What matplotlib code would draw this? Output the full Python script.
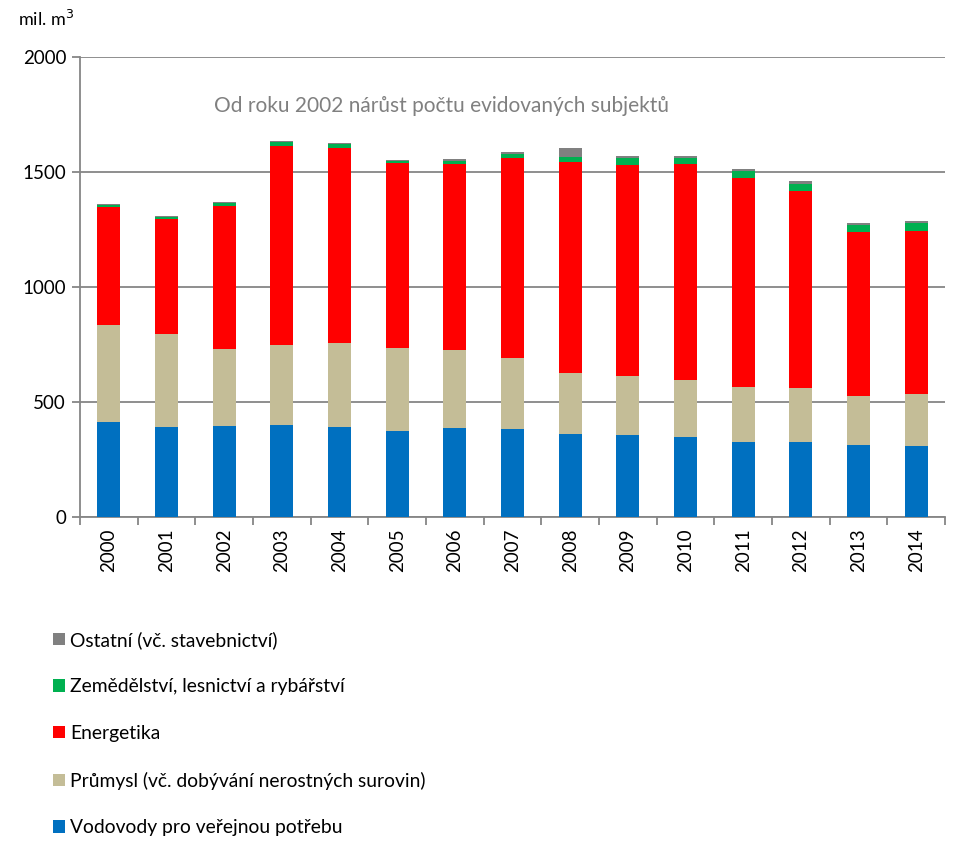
import matplotlib.pyplot as plt
import numpy as np
from matplotlib.patches import Patch

plt.rcParams['font.family'] = ['Lato', 'DejaVu Sans']

# Values (mil. m3)
years = ['2000', '2001', '2002', '2003', '2004', '2005', '2006', '2007',
         '2008', '2009', '2010', '2011', '2012', '2013', '2014']
vodovody = [414, 393, 397, 401, 393, 375, 388, 384, 362, 358, 349, 327, 327, 314, 310]
prumysl = [422, 404, 335, 348, 365, 361, 339, 309, 265, 256, 248, 240, 235, 213, 226]
energetika = [513, 500, 622, 865, 848, 805, 809, 869, 918, 918, 939, 908, 857, 714, 709]
zemedelstvi = [9, 9, 13, 18, 17, 8, 13, 18, 22, 30, 26, 31, 30, 30, 35]
ostatni = [4, 4, 4, 4, 4, 4, 9, 8, 39, 9, 9, 8, 13, 9, 8]

series = [
    ('Vodovody pro veřejnou potřebu', vodovody, '#0070C0'),
    ('Průmysl (vč. dobývání nerostných surovin)', prumysl, '#C4BD97'),
    ('Energetika', energetika, '#FF0000'),
    ('Zemědělství, lesnictví a rybářství', zemedelstvi, '#00B050'),
    ('Ostatní (vč. stavebnictví)', ostatni, '#808080'),
]

fig = plt.figure(figsize=(9.76, 8.51), dpi=100)
ax = fig.add_axes([80 / 976, 1 - 517 / 851, 865 / 976, 460 / 851])

x = np.arange(len(years))
bottom = np.zeros(len(years))
for name, vals, col in series:
    ax.bar(x, vals, 0.4, bottom=bottom, color=col, zorder=3)
    bottom += np.array(vals)

ax.set_xlim(-0.5, len(years) - 0.5)
ax.set_ylim(0, 2000)
ax.set_yticks([0, 500, 1000, 1500, 2000])
ax.yaxis.grid(True, color='#868686', linewidth=1.3, zorder=0)
ax.set_axisbelow(True)

# category labels centered, tick marks between categories
ax.set_xticks(x)
ax.set_xticklabels(years, rotation=90, fontsize=13.5)
ax.set_xticks(np.arange(len(years) + 1) - 0.5, minor=True)
ax.tick_params(axis='x', which='major', length=0, pad=8)
ax.tick_params(axis='x', which='minor', length=6, color='#868686', width=1.3)
ax.tick_params(axis='y', length=6, color='#868686', width=1.3, labelsize=13.5, pad=4)

for s in ['top', 'right']:
    ax.spines[s].set_visible(False)
for s in ['left', 'bottom']:
    ax.spines[s].set_color('#868686')
    ax.spines[s].set_linewidth(1.3)

fig.text(18 / 976, 1 - 19 / 851, 'mil. m$^3$', fontsize=13, va='center', ha='left')
ax.text(0.418, 0.893, 'Od roku 2002 nárůst počtu evidovaných subjektů',
        transform=ax.transAxes, ha='center', va='center', fontsize=15, color='#808080')

handles = [Patch(facecolor=c, label=n) for n, v, c in reversed(series)]
fig.legend(handles=handles, loc='upper left', bbox_to_anchor=(53 / 976, 1 - 631 / 851),
           frameon=False, fontsize=13.9, labelspacing=1.53, handlelength=0.62,
           handleheight=0.62, handletextpad=0.26, borderpad=0, borderaxespad=0)

plt.savefig('out.png', dpi=100)
